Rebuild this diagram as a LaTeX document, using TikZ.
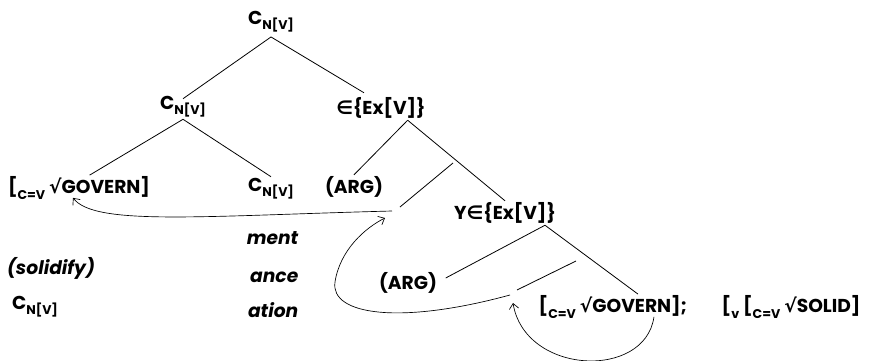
\documentclass[tikz,border=0pt]{standalone}
\usepackage{fontspec}
\usetikzlibrary{arrows.meta}
\setmainfont{Poppins}
\newfontfamily\symfont{DejaVu Sans}
\newcommand\subtx[1]{\raisebox{-0.5ex}{\fontsize{9.5}{10}\selectfont #1}}
\newcommand\rootsym{{\symfont\bfseries √}}
\newcommand\elsym{{\symfont\bfseries ∈}}
\tikzset{
  lbl/.style={font=\bfseries\fontsize{14}{16}\selectfont, inner sep=1pt},
  sfx/.style={font=\bfseries\itshape\fontsize{14}{16}\selectfont, inner sep=1pt},
  mv/.style={-{Straight Barb[length=4pt, width=7pt]}, line width=0.5pt}
}
\begin{document}
\begin{tikzpicture}[x=0.75pt, y=-0.75pt, line width=0.6pt]
\useasboundingbox (0,0) rectangle (869,361);
\node[lbl] (T_0_0) at (271,22) {C\subtx{N[V]}};
\node[lbl] (T_1_0) at (183,107) {C\subtx{N[V]}};
\draw ([yshift=-2pt]T_0_0.south) -- ([yshift=-3pt]T_1_0.north);
\node[lbl] (T_1_1) at (381,108) {\elsym\{Ex[V]\}};
\draw ([yshift=-2pt]T_0_0.south) -- ([shift={(-17,-3)}]T_1_1.north);
\node[lbl] (T_2_0) at (79,188) {[\subtx{C=V} \rootsym GOVERN]};
\draw (T_1_0.south) -- ([xshift=8pt]T_2_0.north);
\node[lbl] (T_2_1) at (271,189) {C\subtx{N[V]}};
\draw (T_1_0.south) -- (T_2_1.north);
\node[lbl] (T_2_2) at (354,187) {(ARG)};
\draw ([xshift=20pt]T_1_1.south) -- (T_2_2.north);
\node[lbl] (T_3_0) at (505,213) {Y\elsym\{Ex[V]\}};
\draw ([xshift=20pt]T_1_1.south) -- (T_3_0.north);
\coordinate (s_1) at (453,163);
\coordinate (t_1) at (400,207);
\draw (s_1) -- (t_1);
\node[lbl] (T_4_0) at (408,283) {(ARG)};
\draw ([xshift=30pt]T_3_0.south) -- ([shift={(7,-5)}]T_4_0.east);
\node[lbl, anchor=west] (T_5_0) at (537,307) {[\subtx{C=V} \rootsym GOVERN];};
\node[lbl, anchor=west] (T_5_1) at (720,307) {[\subtx{v} [\subtx{C=V} \rootsym SOLID]};
\draw ([xshift=30pt]T_3_0.south) -- ([shift={(101,0)}]T_5_0.north west);
\coordinate (s_2) at (576,261);
\coordinate (t_2) at (517,290);
\draw (s_2) -- (t_2);
% suffixes and glosses
\node[sfx, anchor=east] (S_0) at (300,238) {ment};
\node[sfx, anchor=east] (S_1) at (300,277) {ance};
\node[sfx, anchor=east] (S_2) at (300,310) {ation};
\node[sfx] (G_0) at (51,268) {(solidify)};
\node[lbl] (G_1) at (35,307) {C\subtx{N[V]}};
% movement
\coordinate (b_2) at (335,282);
\draw[mv] ([shift={(-8,4)}]t_1) .. controls (200,216) and (95,226) .. ([shift={(-6,-3)}]T_2_0.south);
\draw[mv] ([shift={(-7,5)}]t_2) .. controls (400,325) and (330,315) .. (b_2) .. controls (340,250) and (365,228) .. ([shift={(-15,11)}]t_1);
\draw[mv] ([shift={(41,-3)}]T_5_0.south) .. controls (645,380) and (525,375) .. ([shift={(-4,13)}]t_2);
\end{tikzpicture}
\end{document}
